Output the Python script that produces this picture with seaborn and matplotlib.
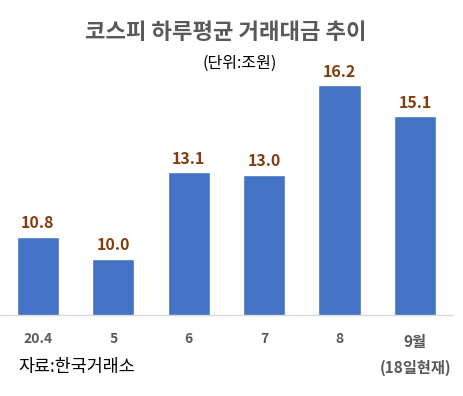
import numpy as np
import pandas as pd
import seaborn as sns
import matplotlib.pyplot as plt
from matplotlib.transforms import ScaledTranslation

sns.set_theme(style="white")
plt.rcParams['font.family'] = ['Noto Sans CJK KR', 'DejaVu Sans']

# 월별 하루평균 거래대금 (조원)
months = ["20.4", "5", "6", "7", "8", "9월\n(18일현재)"]
values = [10.8, 10.0, 13.1, 13.0, 16.2, 15.1]

df = pd.DataFrame({"월": months, "거래대금": values})

fig = plt.figure(figsize=(4.63, 3.96), dpi=100)
ax = fig.add_axes([0.0, 0.2045, 0.978, 0.707])

sns.barplot(data=df, x="월", y="거래대금", color="#4472C4", width=0.56,
            saturation=1, ax=ax)
ax.set_ylim(8, 18)
ax.set_xlim(-0.5, 5.5)

for c in ax.containers:
    ax.bar_label(c, fmt="%.1f", padding=4, color="#843C0C",
                 fontsize=11.5, fontweight="bold")

for s in ["top", "left", "right"]:
    ax.spines[s].set_visible(False)
ax.spines["bottom"].set_color("#D9D9D9")
ax.spines["bottom"].set_linewidth(1)
ax.set_yticks([])
ax.set_xlabel("")
ax.set_ylabel("")
ax.tick_params(axis="x", length=0, pad=12.5)
labels = ax.get_xticklabels()
for lab in labels:
    lab.set_color("#595959")
    lab.set_fontweight("bold")
    lab.set_fontsize(10)
    lab.set_verticalalignment("top")
labels[-1].set_fontsize(11)
labels[-1].set_linespacing(1.8)
labels[-1].set_transform(labels[-1].get_transform()
                         + ScaledTranslation(0, -1 / 72, fig.dpi_scale_trans))

fig.text(0.487, 0.918, "코스피 하루평균 거래대금 추이", ha="center", va="center",
         fontsize=16, fontweight="bold", color="#595959")
fig.text(0.518, 0.841, "(단위:조원)", ha="center", va="center",
         fontsize=11.5, color="black")
fig.text(0.04, 0.073, "자료:한국거래소", ha="left", va="center",
         fontsize=12.5, color="black")

fig.savefig("out.png", dpi=100)
